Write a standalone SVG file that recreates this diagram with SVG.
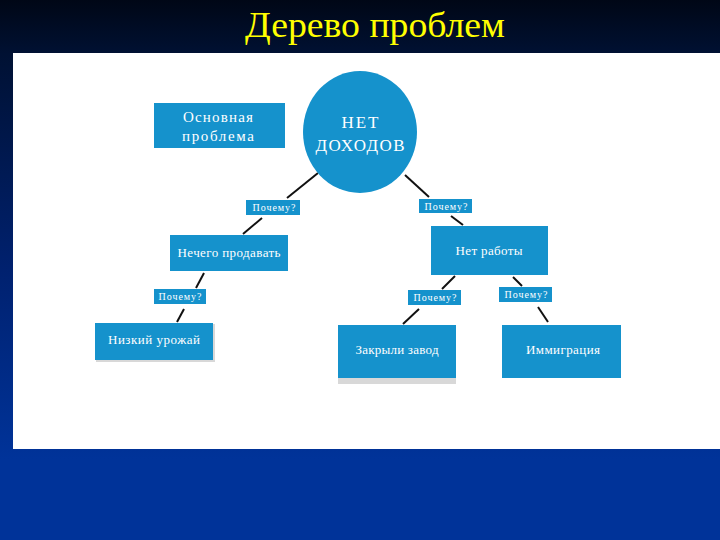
<svg xmlns="http://www.w3.org/2000/svg" width="720" height="540" viewBox="0 0 720 540">
<defs>
<linearGradient id="bg" x1="0" y1="0" x2="0" y2="1">
<stop offset="0" stop-color="#000716"/>
<stop offset="0.1" stop-color="#001133"/>
<stop offset="0.5" stop-color="#00216f"/>
<stop offset="0.85" stop-color="#003399"/>
<stop offset="1" stop-color="#003399"/>
</linearGradient>
<style>
.box{fill:#1592cc;}
.shadow{fill:#d8d8d8;}
.t{font-family:"Liberation Serif","DejaVu Serif",serif;fill:#ffffff;text-anchor:middle;}
.big{font-size:15px;}
.xl{font-size:17px;}
.mid{font-size:13px;}
.sm{font-size:10px;}
.ln{stroke:#111111;stroke-width:2;fill:none;}
</style>
</defs>
<rect x="0" y="0" width="720" height="540" fill="url(#bg)"/>
<rect x="13" y="53" width="707" height="396" fill="#ffffff"/>
<text x="375" y="37" font-family="Liberation Serif, DejaVu Serif, serif" font-size="35" fill="#ffff00" text-anchor="middle" textLength="260" lengthAdjust="spacingAndGlyphs">Дерево проблем</text>
<g id="connectors">
<line class="ln" x1="318" y1="173" x2="287" y2="198"/>
<line class="ln" x1="262" y1="218" x2="243" y2="234"/>
<line class="ln" x1="405" y1="175" x2="429" y2="197"/>
<line class="ln" x1="451" y1="216" x2="463" y2="225"/>
<line class="ln" x1="204" y1="273" x2="196" y2="288"/>
<line class="ln" x1="184" y1="309" x2="177" y2="322"/>
<line class="ln" x1="455" y1="276" x2="442" y2="289"/>
<line class="ln" x1="419" y1="309" x2="403" y2="324"/>
<line class="ln" x1="513" y1="277" x2="522" y2="286"/>
<line class="ln" x1="538" y1="307" x2="548" y2="322"/>
</g>
<g id="main-label">
<rect class="box" x="154" y="103" width="131" height="45"/>
<text class="t big" x="218" y="122" textLength="70">Основная</text>
<text class="t big" x="218" y="141" textLength="72">проблема</text>
</g>
<g id="root">
<ellipse class="box" cx="360" cy="132" rx="57" ry="61"/>
<text class="t xl" x="360" y="128" textLength="37">НЕТ</text>
<text class="t xl" x="360" y="151" textLength="89">ДОХОДОВ</text>
</g>
<g id="why1">
<rect class="box" x="246" y="200" width="54" height="15"/>
<text class="t sm" x="274" y="211" textLength="43">Почему?</text>
</g>
<g id="why2">
<rect class="box" x="419" y="199" width="53" height="14"/>
<text class="t sm" x="446" y="210" textLength="43">Почему?</text>
</g>
<g id="nothing-to-sell">
<rect class="box" x="170" y="235" width="118" height="36"/>
<text class="t mid" x="229" y="257" textLength="103">Нечего продавать</text>
</g>
<g id="no-work">
<rect class="box" x="431" y="226" width="117" height="49"/>
<text class="t mid" x="489" y="255" textLength="67">Нет работы</text>
</g>
<g id="why3">
<rect class="box" x="154" y="289" width="52" height="15"/>
<text class="t sm" x="180" y="300" textLength="43">Почему?</text>
</g>
<g id="why4">
<rect class="box" x="408" y="290" width="53" height="15"/>
<text class="t sm" x="435" y="301" textLength="43">Почему?</text>
</g>
<g id="why5">
<rect class="box" x="499" y="287" width="53" height="15"/>
<text class="t sm" x="526" y="298" textLength="43">Почему?</text>
</g>
<g id="low-harvest">
<rect class="shadow" x="96" y="324" width="119" height="38"/>
<rect class="box" x="95" y="323" width="118" height="37"/>
<text class="t mid" x="154" y="344" textLength="92">Низкий урожай</text>
</g>
<g id="factory-closed">
<rect class="shadow" x="338" y="325" width="118" height="59"/>
<rect class="box" x="338" y="325" width="118" height="53"/>
<text class="t mid" x="397" y="354" textLength="83">Закрыли завод</text>
</g>
<g id="emigration">
<rect class="box" x="502" y="325" width="119" height="53"/>
<text class="t mid" x="563" y="354" textLength="74">Иммиграция</text>
</g>
</svg>
